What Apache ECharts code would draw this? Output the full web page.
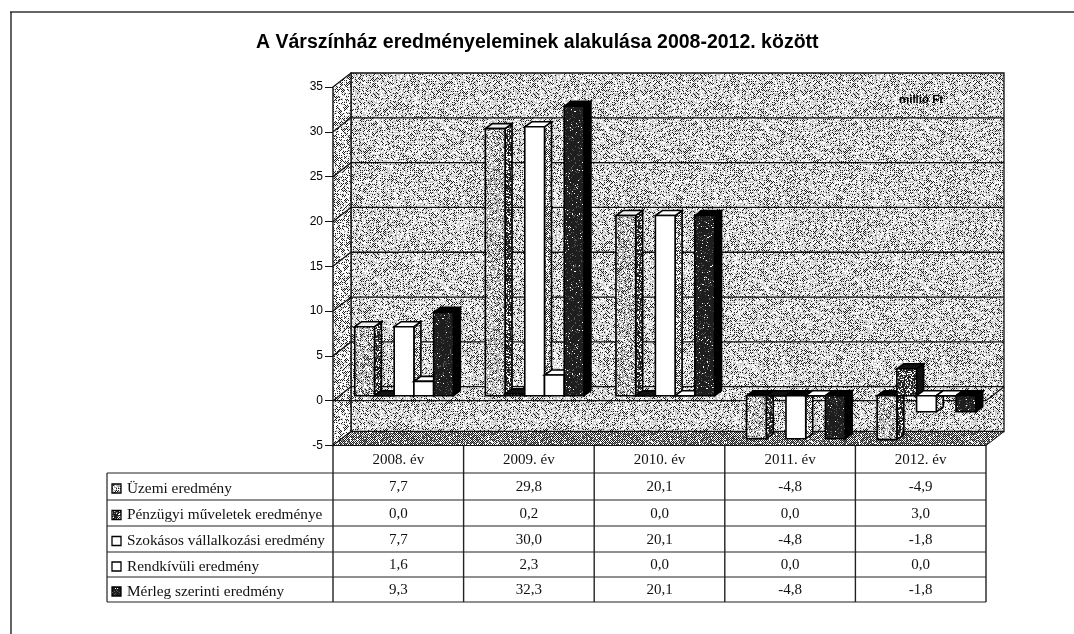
<!DOCTYPE html>
<html>
<head>
<meta charset="utf-8">
<style>
  html, body { margin: 0; padding: 0; background: #fff; }
  #chart { width: 1074px; height: 634px; }
</style>
<script src="https://cdn.jsdelivr.net/npm/echarts@6/dist/echarts.min.js"></script>
</head>
<body>
<div id="chart"></div>
<script>
const categories = ['2008. év', '2009. év', '2010. év', '2011. év', '2012. év']
const seriesNames = [
  'Üzemi eredmény',
  'Pénzügyi műveletek eredménye',
  'Szokásos vállalkozási eredmény',
  'Rendkívüli eredmény',
  'Mérleg szerinti eredmény'
]
const uzemi = [7.7, 29.8, 20.1, -4.8, -4.9]
const penzugyi = [0.0, 0.2, 0.0, 0.0, 3.0]
const szokasos = [7.7, 30.0, 20.1, -4.8, -1.8]
const rendkivuli = [1.6, 2.3, 0.0, 0.0, 0.0]
const merleg = [9.3, 32.3, 20.1, -4.8, -1.8]
const allValues = [uzemi, penzugyi, szokasos, rendkivuli, merleg]
const yTicks = [-5, 0, 5, 10, 15, 20, 25, 30, 35]

// scanned look: fixed-seed stipple, only texture, no data in it
function stipple(black, gray, grayTone) {
  const size = 160
  const c = document.createElement('canvas')
  c.width = c.height = size
  const ctx = c.getContext('2d')
  const img = ctx.createImageData(size, size)
  let s = 12345
  const next = () => {
    s = (s * 1664525 + 1013904223) >>> 0
    return (s >>> 8) / 16777216
  }
  for (let y = 0; y < size; y++) {
    for (let x = 0; x < size; x++) {
      const i = y * size + x
      const r = next()
      // dark dots only on a checker so they do not clump
      const onDot = black > 0.5 || (x + y) % 2 === 0
      const isBlack = onDot && r < (black > 0.5 ? black : black * 2)
      const v = isBlack ? 30 : next() < gray ? grayTone : 255
      img.data[i * 4] = img.data[i * 4 + 1] = img.data[i * 4 + 2] = v
      img.data[i * 4 + 3] = 255
    }
  }
  ctx.putImageData(img, 0, 0)
  return { image: c, repeat: 'repeat' }
}

const wallFill = stipple(0.16, 0.5, 200)
const sideWallFill = stipple(0.22, 0.2, 190)
const floorFill = stipple(0.45, 0.4, 120)
const lightBar = stipple(0.17, 0.55, 170)
const darkBar = stipple(0.55, 0.4, 110)
const blackBar = stipple(0.88, 0.75, 90)
const lightSide = stipple(0.3, 0.3, 170)

const barStyles = [
  { front: lightBar, side: darkBar, top: '#eee' },
  { front: darkBar, side: '#111', top: '#111' },
  { front: '#fff', side: lightSide, top: '#fff' },
  { front: '#fff', side: lightSide, top: '#fff' },
  { front: blackBar, side: '#000', top: '#000' }
]
const line = { stroke: '#111', lineWidth: 1.3, fill: null }

function renderWalls(params, api) {
  const cs = params.coordSys
  const left = cs.x
  const right = cs.x + cs.width
  const bottom = api.coord([0, -5])[1]
  const top = api.coord([0, 35])[1]
  const zero = api.coord([0, 0])[1]
  const dx = 18
  const dy = 14
  const kids = [
    { type: 'polygon', shape: { points: [[left + dx, top - dy], [right + dx, top - dy], [right + dx, bottom - dy], [left + dx, bottom - dy]] }, style: { fill: wallFill, stroke: '#111', lineWidth: 1.3 } },
    { type: 'polygon', shape: { points: [[left, top], [left + dx, top - dy], [left + dx, bottom - dy], [left, bottom]] }, style: { fill: sideWallFill, stroke: '#111', lineWidth: 1.3 } },
    { type: 'polygon', shape: { points: [[left, bottom], [left + dx, bottom - dy], [right + dx, bottom - dy], [right, bottom]] }, style: { fill: floorFill, stroke: '#111', lineWidth: 1 } }
  ]
  yTicks.slice(1, -1).forEach(t => {
    const y = api.coord([0, t])[1]
    kids.push({ type: 'polyline', shape: { points: [[left, y], [left + dx, y - dy], [right + dx, y - dy]] }, style: line })
  })
  kids.push({ type: 'polyline', shape: { points: [[left, zero], [right, zero], [right + dx, zero - dy]] }, style: line })
  kids.push({ type: 'text', x: 899, y: 94, style: { text: 'millió Ft', font: 'bold 11.5px "Liberation Sans", sans-serif', fill: '#000' } })
  return { type: 'group', children: kids }
}

function renderBar(params, api) {
  const i = params.seriesIndex - 1
  const st = barStyles[i]
  const value = api.value(1)
  const at = api.coord([api.value(0), value])
  const base = api.coord([api.value(0), 0])
  const band = api.size([1, 0])[0]
  const w = band * 0.151
  const dx = 7
  const dy = 5
  const x0 = base[0] + band * 0.044 - 2.5 * w + i * w
  const x1 = x0 + w
  const yTop = Math.min(base[1], at[1]) - dy
  const yBot = Math.max(base[1], at[1]) - dy
  const edge = { stroke: '#000', lineWidth: 1.6 }
  const topFill = value < -2 ? '#000' : st.top
  return {
    type: 'group',
    children: [
      { type: 'polygon', shape: { points: [[x1, yTop], [x1 + dx, yTop - dy], [x1 + dx, yBot - dy], [x1, yBot]] }, style: { fill: st.side, ...edge } },
      { type: 'polygon', shape: { points: [[x0, yTop], [x0 + dx, yTop - dy], [x1 + dx, yTop - dy], [x1, yTop]] }, style: { fill: topFill, ...edge } },
      { type: 'polygon', shape: { points: [[x0, yTop], [x1, yTop], [x1, yBot], [x0, yBot]] }, style: { fill: st.front, ...edge } }
    ]
  }
}

const gridLeft = 333
const gridRight = 986
const gridBottomY = 445.5
const tableLeft = 107
const rowLines = [473, 500, 526, 552, 577, 602]
const serif = '"Liberation Serif", serif'
const tableGraphic = []

function tableLine(x1, y1, x2, y2, width) {
  tableGraphic.push({ type: 'line', shape: { x1, y1, x2, y2 }, style: { stroke: '#222', lineWidth: width || 1.2 } })
}
rowLines.forEach(y => tableLine(tableLeft, y, gridRight, y))
tableLine(tableLeft, rowLines[0], tableLeft, rowLines[5])
const colW = (gridRight - gridLeft) / categories.length
for (let c = 0; c <= categories.length; c++) {
  const x = gridLeft + c * colW
  tableLine(x, gridBottomY, x, rowLines[5], 1.4)
}
seriesNames.forEach((name, r) => {
  const cy = (rowLines[r] + rowLines[r + 1]) / 2 + 2
  tableGraphic.push({ type: 'rect', shape: { x: 112, y: cy - 4.5, width: 9, height: 9 }, style: { fill: barStyles[r].front, stroke: '#000', lineWidth: 1.3 } })
  tableGraphic.push({ type: 'text', x: 127, y: cy, style: { text: name, font: '15.3px ' + serif, fill: '#111', verticalAlign: 'middle' } })
  allValues[r].forEach((v, c) => {
    tableGraphic.push({
      type: 'text',
      x: gridLeft + (c + 0.5) * colW,
      y: cy - 1,
      style: { text: v.toFixed(1).replace('.', ','), font: '15px ' + serif, fill: '#111', textAlign: 'center', verticalAlign: 'middle' }
    })
  })
})
tableGraphic.push({ type: 'line', shape: { x1: 10, y1: 12, x2: 1074, y2: 12 }, style: { stroke: '#333', lineWidth: 1.4 } })
tableGraphic.push({ type: 'line', shape: { x1: 11, y1: 12, x2: 11, y2: 634 }, style: { stroke: '#222', lineWidth: 1.4 } })

const chart = echarts.init(document.getElementById('chart'), null, { renderer: 'canvas' })
chart.setOption({
  animation: false,
  backgroundColor: '#fff',
  title: {
    text: 'A Várszínház eredményeleminek alakulása 2008-2012. között',
    left: 251,
    top: 28,
    textStyle: { fontFamily: '"Liberation Sans", sans-serif', fontSize: 19.5, fontWeight: 'bold', color: '#000' }
  },
  grid: { left: gridLeft, top: 87, width: gridRight - gridLeft, height: 358.5 },
  xAxis: {
    type: 'category',
    data: categories,
    position: 'bottom',
    axisTick: { show: false },
    axisLine: { onZero: false, lineStyle: { color: '#111', width: 1.2 } },
    axisLabel: { fontFamily: serif, fontSize: 15, color: '#111', margin: 7 }
  },
  yAxis: {
    type: 'value',
    min: -5,
    max: 35,
    interval: 5,
    splitLine: { show: false },
    axisLine: { show: true, onZero: false, lineStyle: { color: '#111', width: 1.4 } },
    axisTick: { show: true, length: 8, lineStyle: { color: '#111' } },
    axisLabel: { fontFamily: '"Liberation Sans", sans-serif', fontSize: 12, color: '#000', margin: 10 }
  },
  graphic: tableGraphic,
  series: [
    { type: 'custom', name: 'walls', silent: true, z: 1, data: [[0, 0]], renderItem: renderWalls }
  ].concat(seriesNames.map((name, i) => ({
    type: 'custom',
    name,
    z: 3,
    encode: { x: 0, y: 1 },
    data: allValues[i].map((v, c) => [c, v]),
    renderItem: renderBar
  })))
})
</script>
</body>
</html>
